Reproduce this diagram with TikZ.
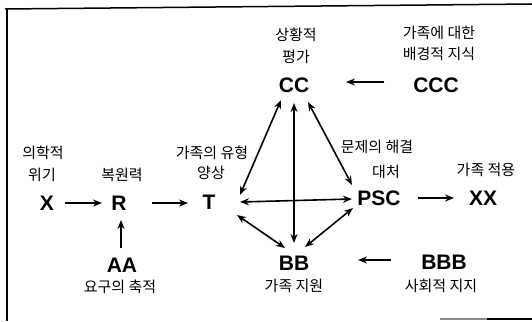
\documentclass[tikz,border=0pt]{standalone}
\usepackage{fontspec}
\setmainfont{Liberation Sans}
\newfontfamily\kr{Noto Sans CJK KR}
\usetikzlibrary{arrows.meta}
\begin{document}
\begin{tikzpicture}[x=1pt,y=-1pt,
  lab/.style={font=\fontsize{21}{21}\selectfont\bfseries, inner sep=0pt},
  kor/.style={font=\kr\fontsize{15}{15}\selectfont, inner sep=0pt},
  arr/.style={line width=1.6pt, -{Stealth[length=9pt,width=7pt]}},
  darr/.style={line width=1.6pt, {Stealth[length=9pt,width=7pt]}-{Stealth[length=9pt,width=7pt]}},
  frame/.style={line width=1.5pt}]
\useasboundingbox (0,0) rectangle (532,321);
% frame
\draw[frame] (5,9) -- (532,4);
\draw[frame] (7,8) -- (7,321);
\draw[line width=1.2pt, black!45] (440,319) -- (487,319);
\draw[frame] (487,319) -- (532,319);
% main nodes
\node[lab] (X) at (47,203) {X};
\node[lab] (R) at (119,203) {R};
\node[lab] (T) at (209,202) {T};
\node[lab] (CC) at (294,85) {CC};
\node[lab] (CCC) at (436,85) {CCC};
\node[lab] (PSC) at (379,198) {PSC};
\node[lab] (XX) at (483,198) {XX};
\node[lab] (AA) at (122,265) {AA};
\node[lab] (BB) at (294,263) {BB};
\node[lab] (BBB) at (444,262) {BBB};
% Korean labels
\node[kor] (k1) at (43,153) {의학적};
\node[kor] (k2) at (42,175) {위기};
\node[kor] (k3) at (122,175) {복원력};
\node[kor] (k4) at (212,153) {가족의 유형};
\node[kor] (k5) at (211,173) {양상};
\node[kor] (k6) at (296,35) {상황적};
\node[kor] (k7) at (296,57) {평가};
\node[kor] (k8) at (439,33) {가족에 대한};
\node[kor] (k9) at (439,54) {배경적 지식};
\node[kor] (k10) at (377,147) {문제의 해결};
\node[kor] (k11) at (386,172) {대처};
\node[kor] (k12) at (486,170) {가족 적용};
\node[kor] (k13) at (120,287) {요구의 축적};
\node[kor] (k14) at (294,286) {가족 지원};
\node[kor] (k15) at (441,286) {사회적 지지};
% single arrows
\draw[arr] ([shift={(18,0)}]X.center) -- ([shift={(-17,0)}]R.center);
\draw[arr] ([shift={(33,0)}]R.center) -- ([shift={(-21,1)}]T.center);
\draw[arr] ([shift={(-1,-17)}]AA.center) -- ([shift={(2,17)}]R.center);
\draw[arr] ([shift={(-52,-3)}]CCC.center) -- ([shift={(52,-3)}]CC.center);
\draw[arr] ([shift={(39,0)}]PSC.center) -- ([shift={(-29,0)}]XX.center);
\draw[arr] ([shift={(-53,-2)}]BBB.center) -- ([shift={(64,-3)}]BB.center);
% double arrows
\draw[darr] ([shift={(-13,15)}]CC.center) -- ([shift={(31,-7)}]T.center);
\draw[darr] ([shift={(0,18)}]CC.center) -- ([shift={(0,-20)}]BB.center);
\draw[darr] ([shift={(14,17)}]CC.center) -- ([shift={(-27,-13)}]PSC.center);
\draw[darr] ([shift={(31,0)}]T.center) -- ([shift={(-27,1)}]PSC.center);
\draw[darr] ([shift={(28,13)}]T.center) -- ([shift={(-9,-15)}]BB.center);
\draw[darr] ([shift={(-26,10)}]PSC.center) -- ([shift={(11,-16)}]BB.center);
\end{tikzpicture}
\end{document}
